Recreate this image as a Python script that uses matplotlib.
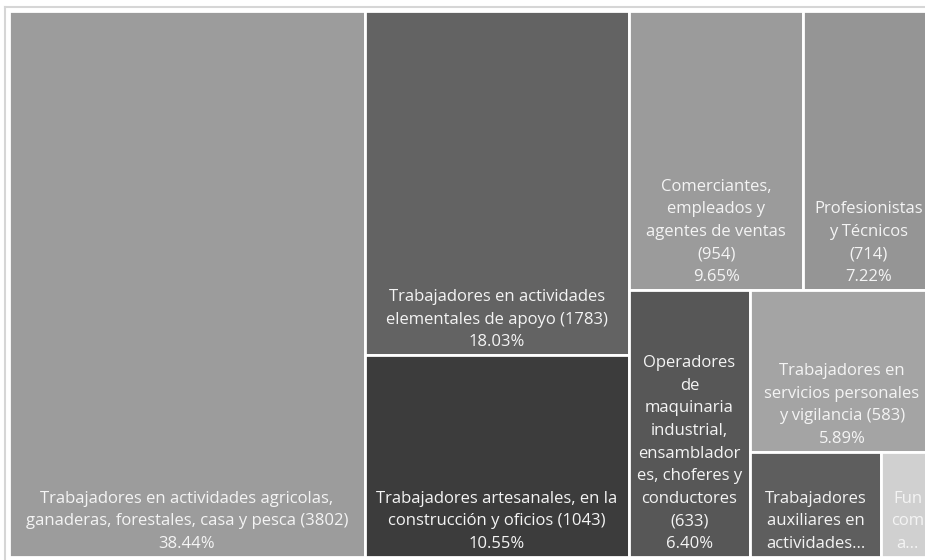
import matplotlib
matplotlib.use("Agg")
import matplotlib.pyplot as plt
from matplotlib.patches import Rectangle

# datos: personas ocupadas por grupo de ocupacion
valores = [3802, 1783, 1043, 954, 714, 633, 583, 270, 108]
nombres = [
    "Trabajadores en actividades agricolas,\nganaderas, forestales, casa y pesca",
    "Trabajadores en actividades\nelementales de apoyo",
    "Trabajadores artesanales, en la\nconstrucción y oficios",
    "Comerciantes,\nempleados y\nagentes de ventas",
    "Profesionistas\ny Técnicos",
    "Operadores\nde\nmaquinaria\nindustrial,\nensamblador\nes, choferes y\nconductores",
    "Trabajadores en\nservicios personales\ny vigilancia",
    "Trabajadores\nauxiliares en\nactividades...",
    "Fun\ncom\na...",
]
separador = [" ", " ", " ", "\n", "\n", "\n", " ", None, None]
colores = ["#9c9c9c", "#636363", "#3c3c3c", "#9b9b9b", "#959595",
           "#575757", "#a4a4a4", "#5e5e5e", "#d0d0d0"]
# filas del treemap (indices agrupados en cada franja)
filas = [[0], [1, 2], [3, 4], [5], [6], [7], [8]]

W, H = 925.0, 546.0
total = sum(valores)
escala = W * H / total


def layout(filas, x, y, w, h):
    rects = {}
    for fila in filas:
        area = sum(valores[i] for i in fila) * escala
        if w >= h:
            cw = area / h
            yy = y
            for i in fila:
                rh = valores[i] * escala / cw
                rects[i] = (x, yy, cw, rh)
                yy += rh
            x += cw
            w -= cw
        else:
            rh = area / w
            xx = x
            for i in fila:
                rw = valores[i] * escala / rh
                rects[i] = (xx, y, rw, rh)
                xx += rw
            y += rh
            h -= rh
    return rects


rects = layout(filas, 0, 0, W, H)

fig = plt.figure(figsize=(9.25, 5.6), dpi=100)
ax = fig.add_axes([5 / 925, 0, 940 / 925, 553 / 560])
ax.set_xlim(-4, 936)
ax.set_ylim(549, -4)
ax.set_xticks([])
ax.set_yticks([])
for s in ["right", "bottom"]:
    ax.spines[s].set_visible(False)
for s in ["top", "left"]:
    ax.spines[s].set_color("#d6d6d6")
    ax.spines[s].set_linewidth(1.5)

for i, v in enumerate(valores):
    x, y, w, h = rects[i]
    r = Rectangle((x, y), w, h, facecolor=colores[i], edgecolor="white", lw=2)
    ax.add_patch(r)
    if separador[i] is None:
        texto = nombres[i]
    else:
        texto = nombres[i] + separador[i] + "(%d)" % v + "\n%.2f%%" % (100.0 * v / total)
    t = ax.text(x + w / 2, y + h - 5, texto, ha="center", va="bottom",
                color="#f4f4f4", fontsize=12, family="Open Sans", linespacing=1.55)
    t.set_clip_path(r)

plt.savefig("out.png", dpi=100)
